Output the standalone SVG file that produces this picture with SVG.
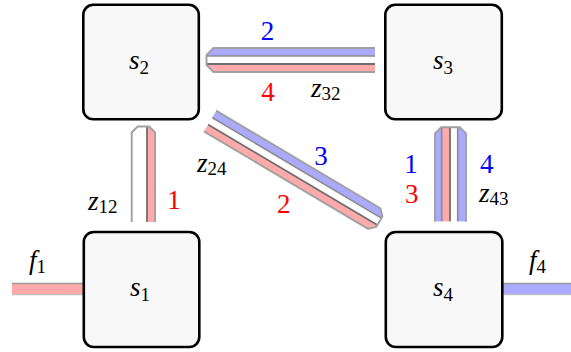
<svg xmlns="http://www.w3.org/2000/svg" width="571" height="352" viewBox="0 0 571 352" font-family="'Liberation Serif', 'Times New Roman', serif">
<style>
.box{fill:#f8f8f8;stroke:#000;stroke-width:2.6}
text{font-family:'Liberation Serif','Times New Roman',serif;font-size:27px;fill:#000}
.i{font-style:italic}
.sub{font-size:19px;font-style:normal}
.blue{fill:#0000ff}
.red{fill:#ff0000}
.lb{fill:#aaaaff}
.lr{fill:#ffaaaa}
.lw{fill:#ffffff}
.out{fill:none;stroke:#a0a0a0;stroke-width:1.9;stroke-linejoin:round}
.d1{stroke:#8c8c8c;stroke-width:1.6}
.d2{stroke:#6e6e6e;stroke-width:1.8}
</style>
<defs>
<clipPath id="cpH"><polygon points="0,-12 161.5,-12 168.5,-5 168.5,5 161.5,12 0,12"/></clipPath>
<clipPath id="cpV1"><polygon points="0,-11.7 89.5,-11.7 95.5,-5.7 95.5,5.7 89.5,11.7 0,11.7"/></clipPath>
<clipPath id="cpV2"><polygon points="0,-15.5 88.4,-15.5 94.4,-9.5 94.4,9.5 88.4,15.5 0,15.5"/></clipPath>
<clipPath id="cpD"><polygon points="0,-12 191,-12 197,-6 197,6 191,12 0,12"/></clipPath>
</defs>
<g id="connectors">
  <g id="f1-line">
    <rect x="12" y="283" width="72" height="12" class="lr"/>
    <line x1="12" y1="283.5" x2="84" y2="283.5" stroke="#999" stroke-width="1.3"/>
    <line x1="12" y1="294.6" x2="84" y2="294.6" stroke="#c0c0c0" stroke-width="1.3"/>
  </g>
  <g id="f4-line">
    <rect x="500" y="283" width="71" height="12" class="lb"/>
    <line x1="500" y1="283.5" x2="571" y2="283.5" stroke="#999" stroke-width="1.3"/>
    <line x1="500" y1="294.6" x2="571" y2="294.6" stroke="#c0c0c0" stroke-width="1.3"/>
  </g>
  <g id="e32" transform="translate(375,60) rotate(180)">
    <g clip-path="url(#cpH)">
      <rect x="0" y="4" width="170" height="8" class="lb"/>
      <rect x="0" y="-4" width="170" height="8" class="lw"/>
      <rect x="0" y="-12" width="170" height="8" class="lr"/>
      <line x1="0" y1="4" x2="170" y2="4" class="d1"/>
      <line x1="0" y1="-4" x2="170" y2="-4" class="d2"/>
    </g>
    <polyline points="0,-12 161.5,-12 168.5,-5 168.5,5 161.5,12 0,12" class="out"/>
  </g>
  <g id="e12" transform="translate(143.4,222) rotate(-90)">
    <g clip-path="url(#cpV1)">
      <rect x="0" y="-11.7" width="96" height="15.3" class="lw"/>
      <rect x="0" y="3.6" width="96" height="8.1" class="lr"/>
      <line x1="0" y1="3.6" x2="96" y2="3.6" class="d2"/>
    </g>
    <polyline points="0,-11.7 89.5,-11.7 95.5,-5.7 95.5,5.7 89.5,11.7 0,11.7" class="out"/>
  </g>
  <g id="e43" transform="translate(450.5,221.7) rotate(-90)">
    <g clip-path="url(#cpV2)">
      <rect x="0" y="-15.5" width="95" height="6.7" class="lb"/>
      <rect x="0" y="-8.8" width="95" height="8.3" class="lr"/>
      <rect x="0" y="-0.5" width="95" height="7.7" class="lw"/>
      <rect x="0" y="7.2" width="95" height="8.3" class="lb"/>
      <line x1="0" y1="-8.8" x2="95" y2="-8.8" class="d1"/>
      <line x1="0" y1="-0.5" x2="95" y2="-0.5" class="d2"/>
      <line x1="0" y1="7.2" x2="95" y2="7.2" class="d1"/>
    </g>
    <polyline points="0,-15.5 88.4,-15.5 94.4,-9.5 94.4,9.5 88.4,15.5 0,15.5" class="out"/>
  </g>
  <g id="e24" transform="translate(210,121) rotate(30.7)">
    <g clip-path="url(#cpD)">
      <rect x="0" y="-12" width="198" height="8" class="lb"/>
      <rect x="0" y="-4" width="198" height="8" class="lw"/>
      <rect x="0" y="4" width="198" height="8" class="lr"/>
      <line x1="0" y1="-4" x2="198" y2="-4" class="d1"/>
      <line x1="0" y1="4" x2="198" y2="4" class="d2"/>
    </g>
    <polyline points="0,-12 191,-12 197,-6 197,6 191,12 0,12" class="out"/>
  </g>
</g>
<g id="s2">
  <rect x="83.3" y="4.8" width="115.5" height="114.5" rx="10" class="box"/>
  <text x="139" y="69" text-anchor="middle" class="i">s<tspan class="sub" dy="5">2</tspan></text>
</g>
<g id="s3">
  <rect x="385.3" y="4.8" width="116.5" height="114.5" rx="10" class="box"/>
  <text x="443" y="69" text-anchor="middle" class="i">s<tspan class="sub" dy="5">3</tspan></text>
</g>
<g id="s1">
  <rect x="83.8" y="232" width="115.5" height="115" rx="10" class="box"/>
  <text x="140" y="296" text-anchor="middle" class="i">s<tspan class="sub" dy="5">1</tspan></text>
</g>
<g id="s4">
  <rect x="385.8" y="232" width="116.5" height="115" rx="10" class="box"/>
  <text x="443" y="296" text-anchor="middle" class="i">s<tspan class="sub" dy="5">4</tspan></text>
</g>
<g id="labels">
  <text x="267.5" y="39.5" text-anchor="middle" class="blue">2</text>
  <text x="268" y="100.5" text-anchor="middle" class="red">4</text>
  <text x="311" y="97" class="i">z<tspan class="sub" dy="3">32</tspan></text>
  <text x="321" y="165" text-anchor="middle" class="blue">3</text>
  <text x="283.7" y="213" text-anchor="middle" class="red">2</text>
  <text x="197" y="172" class="i">z<tspan class="sub" dy="3">24</tspan></text>
  <text x="411" y="173" text-anchor="middle" class="blue">1</text>
  <text x="411.7" y="203" text-anchor="middle" class="red">3</text>
  <text x="486.7" y="173" text-anchor="middle" class="blue">4</text>
  <text x="479" y="202" class="i">z<tspan class="sub" dy="3">43</tspan></text>
  <text x="174" y="209" text-anchor="middle" class="red">1</text>
  <text x="88" y="210" class="i">z<tspan class="sub" dy="3">12</tspan></text>
  <text x="29" y="269" class="i">f<tspan class="sub" dy="4">1</tspan></text>
  <text x="529" y="269" class="i">f<tspan class="sub" dy="4">4</tspan></text>
</g>
</svg>
